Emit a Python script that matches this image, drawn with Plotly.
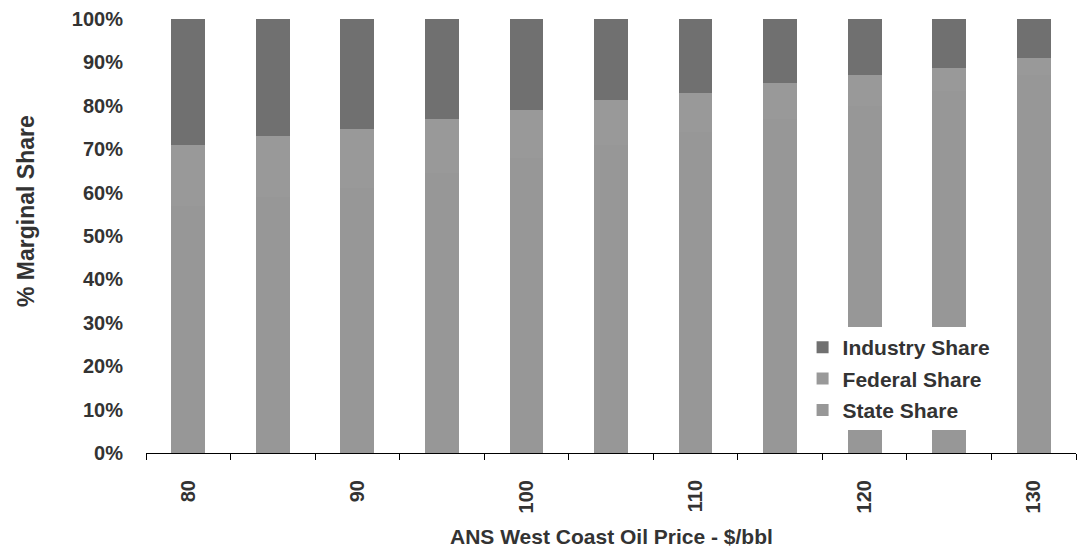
import plotly.graph_objects as go

# ANS West Coast oil price ($/bbl)
prices = [80, 85, 90, 95, 100, 105, 110, 115, 120, 125, 130]
tick_prices = [80, 90, 100, 110, 120, 130]

# Marginal share of each additional dollar, in percent
state_share = [57.0, 59.0, 61.0, 64.5, 68.0, 71.0, 74.0, 77.0, 80.0, 83.5, 87.0]
federal_share = [14.0, 14.0, 13.7, 12.5, 11.0, 10.3, 9.0, 8.3, 7.0, 5.3, 4.0]
industry_share = [29.0, 27.0, 25.3, 23.5, 21.0, 18.7, 17.0, 14.7, 13.0, 11.2, 9.0]

FONT = "Liberation Sans, Arial, sans-serif"
TXT = "#333333"

fig = go.Figure()
series = [
    ("State Share", state_share, "#979797", 3),
    ("Federal Share", federal_share, "#999999", 2),
    ("Industry Share", industry_share, "#707070", 1),
]
for name, vals, col, rank in series:
    fig.add_trace(go.Bar(
        x=prices, y=vals, name=name, legendgroup=name, legendrank=rank,
        marker=dict(color=col, line=dict(width=0)),
        hoverinfo="x+y+name",
    ))

fig.update_layout(
    barmode="stack",
    bargap=0.6,
    width=1083, height=549,
    margin=dict(l=146, r=7, t=19, b=96),
    paper_bgcolor="white", plot_bgcolor="white",
    font=dict(family=FONT, size=20, color=TXT),
    showlegend=True,
    legend=dict(
        x=0.706, y=0.29, xanchor="left", yanchor="top",
        bgcolor="white", traceorder="grouped", tracegroupgap=1,
        font=dict(family=FONT, size=21, color=TXT, weight="bold"),
        itemwidth=30,
    ),
    xaxis=dict(
        range=[77.5, 132.5],
        tickmode="array", tickvals=tick_prices,
        ticktext=[str(p) for p in tick_prices],
        tickangle=-90, ticks="", ticklabelstandoff=18,
        tickfont=dict(family=FONT, size=20, color=TXT, weight="bold"),
        showline=True, linecolor="black", linewidth=1,
        showgrid=False, zeroline=False,
        minor=dict(tickmode="linear", tick0=77.5, dtick=5, ticks="outside",
                   ticklen=6, tickcolor="black", tickwidth=1, showgrid=False),
    ),
    yaxis=dict(
        range=[0, 100], tickmode="linear", tick0=0, dtick=10,
        ticksuffix="%", ticks="", ticklabelstandoff=22,
        tickfont=dict(family=FONT, size=20, color=TXT, weight="bold"),
        showline=False, showgrid=False, zeroline=False,
    ),
    annotations=[
        dict(text="% Marginal Share", textangle=-90, xref="paper", yref="paper",
             x=(26 - 146) / 930, y=(453 - 211) / 434, xanchor="center", yanchor="middle",
             showarrow=False, font=dict(family=FONT, size=23, color=TXT, weight="bold")),
        dict(text="ANS West Coast Oil Price - $/bbl", xref="paper", yref="paper",
             x=0.5, y=(453 - 536) / 434, xanchor="center", yanchor="middle",
             showarrow=False, font=dict(family=FONT, size=21, color=TXT, weight="bold")),
    ],
)

fig.write_html("out.html")
